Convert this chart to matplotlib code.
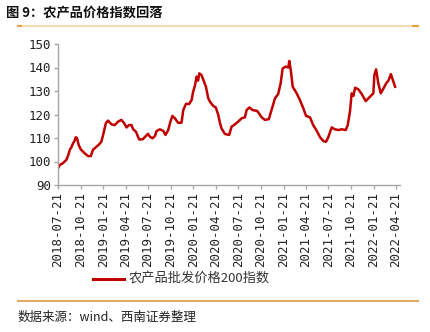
import matplotlib
matplotlib.use("Agg")
import matplotlib.pyplot as plt
import matplotlib.dates as mdates
import pandas as pd

# 农产品批发价格200指数
dates = [
    "2018-07-21", "2018-07-28", "2018-08-10", "2018-08-24", "2018-08-31", "2018-09-07",
    "2018-09-13", "2018-09-20", "2018-09-27", "2018-10-01", "2018-10-06", "2018-10-13",
    "2018-10-21", "2018-11-06", "2018-11-20", "2018-12-01", "2018-12-10", "2018-12-24",
    "2019-01-06", "2019-01-13", "2019-01-20", "2019-01-31", "2019-02-09", "2019-02-23",
    "2019-03-08", "2019-03-22", "2019-04-04", "2019-04-14", "2019-04-25", "2019-05-05",
    "2019-05-15", "2019-05-22", "2019-06-02", "2019-06-15", "2019-06-29", "2019-07-12",
    "2019-07-21", "2019-07-28", "2019-08-08", "2019-08-18", "2019-08-25", "2019-09-07",
    "2019-09-21", "2019-09-30", "2019-10-11", "2019-10-20", "2019-10-28", "2019-11-07",
    "2019-11-20", "2019-12-04", "2019-12-11", "2019-12-22", "2020-01-04", "2020-01-14",
    "2020-01-20", "2020-01-27", "2020-02-03", "2020-02-09", "2020-02-14", "2020-02-23",
    "2020-03-04", "2020-03-12", "2020-03-21", "2020-03-28", "2020-04-04", "2020-04-11",
    "2020-04-21", "2020-05-01", "2020-05-08", "2020-05-14", "2020-05-28", "2020-06-14",
    "2020-06-24", "2020-07-07", "2020-07-21", "2020-08-04", "2020-08-17", "2020-08-24",
    "2020-09-04", "2020-09-17", "2020-10-06", "2020-10-24", "2020-11-06", "2020-11-22",
    "2020-12-03", "2020-12-17", "2020-12-30", "2021-01-09", "2021-01-17", "2021-01-30",
    "2021-02-09", "2021-02-13", "2021-02-19", "2021-02-27", "2021-03-15", "2021-03-28",
    "2021-04-11", "2021-04-22", "2021-05-08", "2021-05-21", "2021-06-04", "2021-06-18",
    "2021-07-01", "2021-07-12", "2021-07-21", "2021-08-04", "2021-08-17", "2021-08-31",
    "2021-09-14", "2021-09-30", "2021-10-08", "2021-10-17", "2021-10-24", "2021-10-31",
    "2021-11-07", "2021-11-20", "2021-12-04", "2021-12-20", "2021-12-31", "2022-01-13",
    "2022-01-20", "2022-01-24", "2022-01-31", "2022-02-09", "2022-02-19", "2022-03-02",
    "2022-03-13", "2022-03-22", "2022-04-01", "2022-04-09", "2022-04-18",
]
index200 = [
    97.0, 98.5, 99.3, 100.7, 102.5, 105.0,
    106.0, 107.7, 109.0, 110.3, 110.0, 107.0,
    105.2, 103.5, 102.3, 102.3, 105.0, 106.3,
    107.5, 108.5, 111.3, 116.3, 117.4, 115.8,
    115.5, 117.0, 117.7, 116.5, 114.5, 115.5,
    115.5, 113.7, 112.7, 109.4, 109.4, 110.8,
    111.8, 110.6, 109.9, 110.8, 113.0, 113.7,
    113.0, 111.3, 113.4, 117.0, 119.4, 118.4,
    116.5, 116.5, 121.9, 124.5, 124.5, 126.2,
    129.7, 132.1, 136.1, 134.4, 137.5, 136.8,
    134.0, 131.8, 127.0, 125.5, 124.5, 123.6,
    123.0, 119.8, 116.3, 114.1, 111.7, 111.3,
    114.8, 115.8, 117.0, 118.4, 118.8, 121.9,
    123.0, 121.9, 121.5, 118.8, 117.7, 118.0,
    121.9, 126.9, 128.7, 133.3, 139.6, 140.4,
    140.0, 142.8, 138.9, 131.8, 129.0, 126.2,
    122.6, 119.4, 118.8, 115.5, 113.1, 110.3,
    108.7, 108.4, 110.3, 114.5, 113.7, 113.4,
    113.7, 113.4, 115.5, 121.2, 129.0, 127.9,
    131.4, 130.7, 128.7, 125.7, 126.9, 128.3,
    129.0, 136.8, 139.2, 133.3, 129.0, 131.1,
    133.3, 134.4, 137.2, 134.7, 131.8,
]
tick_labels = [
    "2018-07-21", "2018-10-21", "2019-01-21", "2019-04-21", "2019-07-21", "2019-10-21",
    "2020-01-21", "2020-04-21", "2020-07-21", "2020-10-21", "2021-01-21", "2021-04-21",
    "2021-07-21", "2021-10-21", "2022-01-21", "2022-04-21",
]
y_ticks = [90, 100, 110, 120, 130, 140, 150]

x = pd.to_datetime(dates)
red = "#C00000"
gray = "#A6A6A6"

fig = plt.figure(figsize=(4.3, 3.32), dpi=100)
W, H = 430, 332
ax = fig.add_axes([58 / W, 1 - 185 / H, (400 - 58) / W, (185 - 44) / H])

ax.plot(x, index200, color=red, lw=1.8, solid_joinstyle="round")

ax.set_ylim(90, 150)
ax.set_yticks(y_ticks)
ax.set_xlim(pd.Timestamp("2018-07-21"), pd.Timestamp("2022-05-08"))
ax.set_xticks(pd.to_datetime(tick_labels))
ax.xaxis.set_major_formatter(mdates.DateFormatter("%Y-%m-%d"))
for lab in ax.get_xticklabels():
    lab.set_rotation(90)
for lab in ax.get_xticklabels() + ax.get_yticklabels():
    lab.set_family("DejaVu Sans Mono")
    lab.set_fontsize(9)
    lab.set_color("#222222")

ax.spines["top"].set_visible(False)
ax.spines["right"].set_visible(False)
for s in ("left", "bottom"):
    ax.spines[s].set_color(gray)
    ax.spines[s].set_linewidth(1.0)
ax.tick_params(axis="both", color=gray, length=3, width=1.0, pad=2)

# legend drawn by hand under the date labels
fig.lines.append(plt.Line2D([93 / W, 124 / W], [1 - 279 / H] * 2, color=red, lw=2.2,
                            transform=fig.transFigure))
fig.text(129 / W, 1 - 279 / H, "农产品批发价格200指数", fontsize=9.5, va="center",
         color="#333333", family=["Noto Sans CJK SC", "DejaVu Sans"])

# title and source
fig.text(6 / W, 1 - 12 / H, "图 9：农产品价格指数回落", fontsize=9.5, va="center",
         fontweight="bold", color="#111111", family=["Noto Sans CJK SC", "DejaVu Sans"])
fig.lines.append(plt.Line2D([18 / W, 418 / W], [1 - 25.5 / H] * 2, color="#F0DDB8", lw=1.5,
                            transform=fig.transFigure))
fig.lines.append(plt.Line2D([18 / W, 21 / W], [1 - 25.5 / H] * 2, color="#E8A040", lw=1.5,
                            transform=fig.transFigure))
fig.lines.append(plt.Line2D([413 / W, 418 / W], [1 - 25.5 / H] * 2, color="#E8A040", lw=1.5,
                            transform=fig.transFigure))
fig.lines.append(plt.Line2D([18 / W, 418 / W], [1 - 301 / H] * 2, color="#E2A865", lw=1.5,
                            transform=fig.transFigure))
fig.text(18 / W, 1 - 317 / H, "数据来源：wind、西南证券整理", fontsize=9, va="center",
         style="italic", color="#222222", family=["Noto Sans CJK SC", "DejaVu Sans"])

fig.savefig("out.png", dpi=100)
